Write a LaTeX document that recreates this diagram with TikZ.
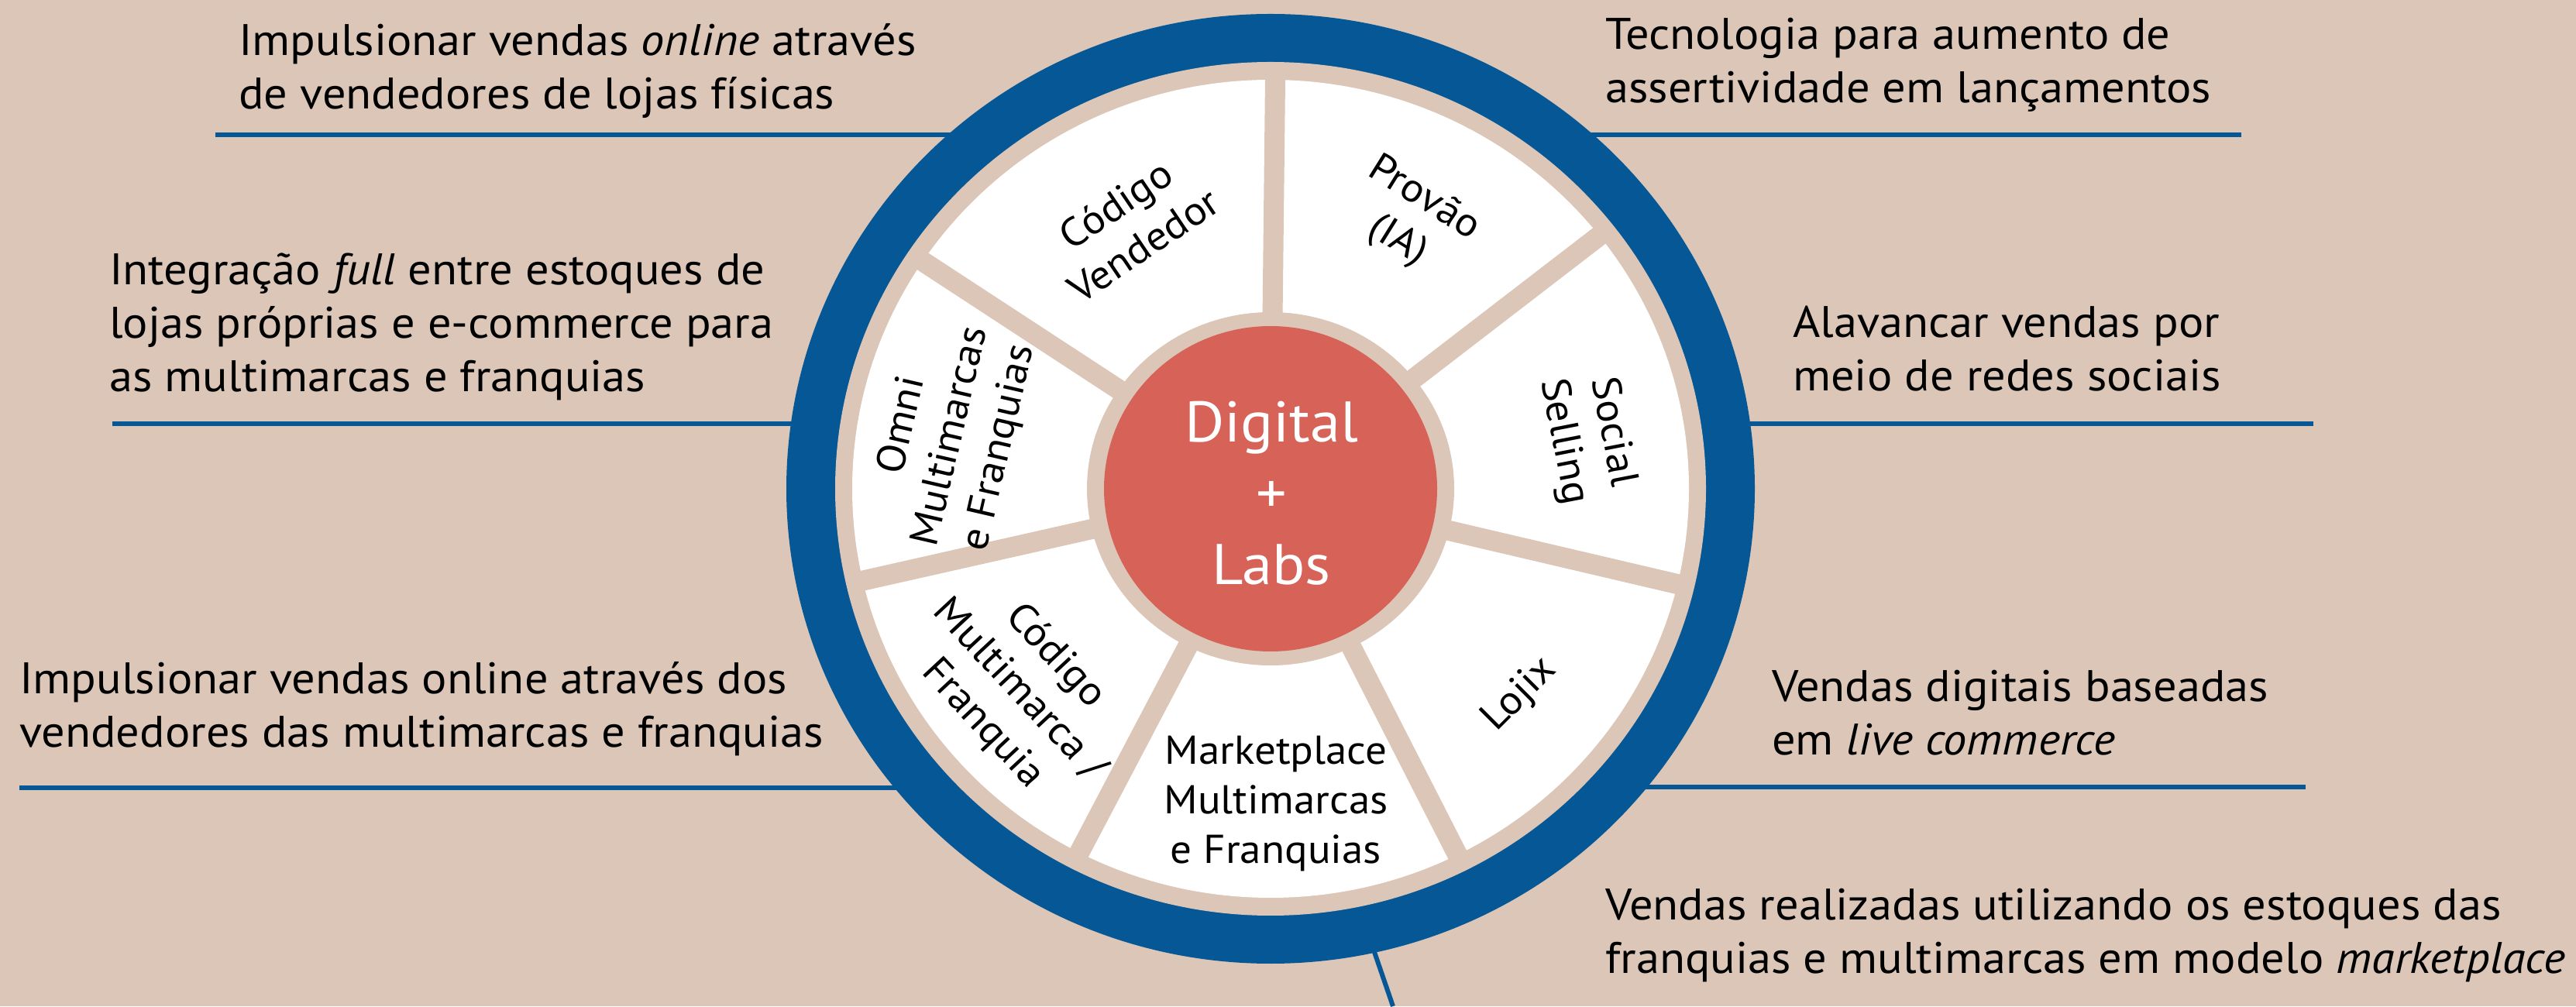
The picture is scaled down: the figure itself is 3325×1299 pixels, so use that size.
\documentclass[tikz,border=0pt]{standalone}
\usepackage{fontspec}
\setmainfont[FakeStretch=1.06]{PT Sans}
\usetikzlibrary{calc}
\definecolor{sand}{RGB}{219,198,183}
\definecolor{navy}{RGB}{5,88,149}
\definecolor{coral}{RGB}{214,98,88}

\begin{document}
\begin{tikzpicture}[x=1pt,y=1pt,
  leader/.style={draw=navy, line width=6pt},
  spoke/.style={draw=sand, line width=26pt},
  note/.style={anchor=base west, align=left, inner sep=0pt,
    font=\fontsize{57}{69}\selectfont},
  sector/.style={align=center, inner sep=0pt,
    font=\fontsize{52}{64}\selectfont},
]
\fill[sand] (0,0) rectangle (3325,1299);
\useasboundingbox (0,0) rectangle (3325,1299);

\coordinate (c) at (1640,668);

% leader lines, drawn first so the wheel covers their inner ends
\coordinate (tl) at (278,1125);
\coordinate (ml) at (145,752);
\coordinate (bl) at (25,282);
\coordinate (tr) at (2893,1125);
\coordinate (mr) at (2986,752);
\coordinate (lr) at (2976,283);
\coordinate (br) at (1798,0);
\coordinate (bri) at (1729,201);
\draw[leader] (tl) -- (tl -| c);
\draw[leader] (ml) -- (ml -| c);
\draw[leader] (bl) -- (bl -| c);
\draw[leader] (tr) -- (tr -| c);
\draw[leader] (mr) -- (mr -| c);
\draw[leader] (lr) -- (lr -| c);
\draw[leader] (br) -- (bri);

% wheel: blue rim, sand gap, white face
\fill[navy] (c) ellipse [x radius=625, y radius=613];
\fill[sand] (c) ellipse [x radius=562, y radius=551];
\fill[white] (c) ellipse [x radius=540, y radius=528];

% spokes between the seven sectors
\coordinate (s1) at (1646,1196);
\coordinate (s2) at (2061,992);
\coordinate (s3) at (2169,544);
\coordinate (s4) at (1883,192);
\coordinate (s5) at (1394,200);
\coordinate (s6) at (1112,549);
\coordinate (s7) at (1195,959);
\foreach \s in {s1,s2,s3,s4,s5,s6,s7}
  \draw[spoke] (c) -- ($(c)!1.025!(\s)$);

% hub
\fill[sand] (c) ellipse [x radius=237, y radius=228];
\fill[coral] (c) ellipse [x radius=215, y radius=210];
\node[align=center, text=white, inner sep=0pt,
  font=\fontsize{74}{92}\selectfont] (hub) at (1641,662) {Digital\\+\\Labs};

% sector labels
\node[sector, rotate=34] (cv) at (1458,1009) {Código\\Vendedor};
\node[sector, rotate=-32] (pv) at (1821,1015) {Provão\\(IA)};
\node[sector, rotate=-79] (ss) at (2049,735) {Social\\Selling};
\node[sector, rotate=45] (lj) at (1962,402) {Lojix};
\node[sector] (mp) at (1647,262) {Marketplace\\Multimarcas\\e Franquias};
\node[sector, rotate=-47] (cm) at (1315,408) {Código\\Multimarca /\\Franquia};
\node[sector, rotate=77] (om) at (1228,735) {Omni\\Multimarcas\\e Franquias};

% outer notes (anchored on the baseline of their last line)
\node[note] (ntl) at (308,1158) {Impulsionar vendas \emph{online} através\\de vendedores de lojas físicas};
\node[note] (nml) at (141,793) {Integração \emph{full} entre estoques de\\lojas próprias e e-commerce para\\as multimarcas e franquias};
\node[note] (nbl) at (25,334) {Impulsionar vendas online através dos\\vendedores das multimarcas e franquias};
\node[note] (ntr) at (2072,1166) {Tecnologia para aumento de\\assertividade em lançamentos};
\node[note] (nmr) at (2314,794) {Alavancar vendas por\\meio de redes sociais};
\node[note] (nlr) at (2287,324) {Vendas digitais baseadas\\em \emph{live commerce}};
\node[note] (nbr) at (2072,43) {Vendas realizadas utilizando os estoques das\\franquias e multimarcas em modelo \emph{marketplace}};
\end{tikzpicture}
\end{document}
